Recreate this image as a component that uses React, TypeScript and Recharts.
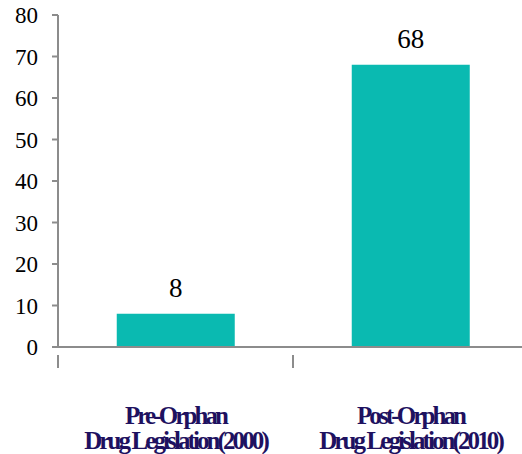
import { Bar, BarChart, LabelList, XAxis, YAxis } from "recharts"

const categories = ["Pre-Orphan|Drug Legislation(2000)", "Post-Orphan|Drug Legislation(2010)"]
const approvals = [8, 68]
const yTicks = [0, 10, 20, 30, 40, 50, 60, 70, 80]

const chartData = categories.map((name, i) => ({ name, value: approvals[i] }))

const SERIF = "'Liberation Serif', 'Times New Roman', 'DejaVu Serif', serif"
const CHART_W = 528
const CHART_H = 454
const AXIS_W = 58
const BAND = (CHART_W - AXIS_W) / categories.length

function CategoryTick(props: any) {
  const { x, y, payload } = props
  const [line1, line2] = String(payload.value).split("|")
  return (
    <g>
      <line x1={x - BAND / 2} y1={y} x2={x - BAND / 2} y2={y + 13} stroke="#8c8c8c" strokeWidth={2} />
      <line x1={x + BAND / 2} y1={y} x2={x + BAND / 2} y2={y + 13} stroke="#8c8c8c" strokeWidth={2} />
      <text
        x={x}
        textAnchor="middle"
        fill="#1e1160"
        style={{ fontFamily: SERIF, fontWeight: "bold", fontSize: 25, letterSpacing: -2.9 }}
      >
        <tspan x={x} y={y + 69}>{line1}</tspan>
        <tspan x={x} y={y + 94}>{line2}</tspan>
      </text>
    </g>
  )
}

function ValueTick(props: any) {
  const { x, y, payload } = props
  return (
    <text x={x} y={y + 8} textAnchor="end" fill="#000" style={{ fontFamily: SERIF, fontSize: 23 }}>
      {payload.value}
    </text>
  )
}

function BarValue(props: any) {
  const { x, y, width, value } = props
  return (
    <text x={x + width / 2} y={y - 17} textAnchor="middle" fill="#000" style={{ fontFamily: SERIF, fontSize: 27 }}>
      {value}
    </text>
  )
}

export default function App() {
  return (
    <div style={{ position: "absolute", left: 0, top: 0, width: 522, height: 454, overflow: "hidden", background: "#fff" }}>
      <BarChart
        width={CHART_W}
        height={CHART_H}
        data={chartData}
        margin={{ top: 15, right: 0, bottom: 0, left: 0 }}
        barCategoryGap="25%"
      >
        <XAxis
          dataKey="name"
          height={107}
          axisLine={{ stroke: "#8c8c8c", strokeWidth: 2 }}
          tickLine={false}
          tick={<CategoryTick />}
          interval={0}
        />
        <YAxis
          width={AXIS_W}
          domain={[0, 80]}
          ticks={yTicks}
          interval={0}
          tickSize={6}
          tickMargin={14}
          axisLine={{ stroke: "#8c8c8c", strokeWidth: 2 }}
          tickLine={{ stroke: "#8c8c8c", strokeWidth: 2 }}
          tick={<ValueTick />}
        />
        <Bar dataKey="value" fill="#0abab1" isAnimationActive={false}>
          <LabelList dataKey="value" content={<BarValue />} />
        </Bar>
      </BarChart>
    </div>
  )
}
